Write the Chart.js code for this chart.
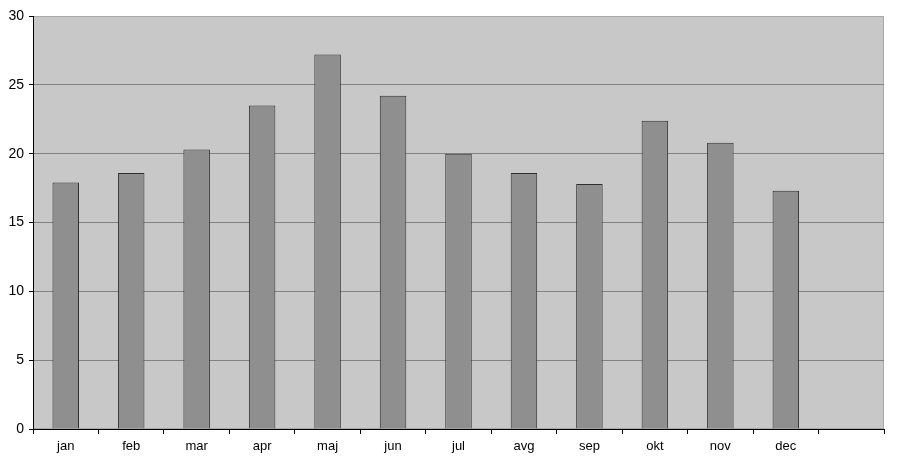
<!DOCTYPE html>
<html>
<head>
<meta charset="utf-8">
<script src="https://cdn.jsdelivr.net/npm/chart.js@4/dist/chart.umd.min.js"></script>
<style>
html,body{margin:0;padding:0;background:#fff}
#c{display:block}
</style>
</head>
<body>
<canvas id="c" width="901" height="465"></canvas>
<script>
// mesecni podatki (13. kategorija je prazna)
const meseci = ["jan","feb","mar","apr","maj","jun","jul","avg","sep","okt","nov","dec",""]
const vrednosti = [17.9,18.6,20.3,23.5,27.2,24.2,20.0,18.6,17.8,22.4,20.8,17.3,null]
const yMin = 0
const yMax = 30
const yKorak = 5

const ozadje = {
id:"ozadje",
beforeDraw(chart){
const a = chart.chartArea
const ctx = chart.ctx
ctx.save()
ctx.fillStyle = "#c8c8c8"
ctx.fillRect(a.left,a.top,a.right-a.left,a.bottom-a.top)
ctx.strokeStyle = "#a9a9a9"
ctx.lineWidth = 1
ctx.strokeRect(a.left+0.5,a.top+0.5,a.right-a.left-1,a.bottom-a.top-1)
ctx.restore()
}
}

new Chart(document.getElementById("c"),{
type:"bar",
data:{
labels:meseci,
datasets:[{
data:vrednosti,
backgroundColor:"#8f8f8f",
borderColor:"#2e2e2e",
borderWidth:1,
borderSkipped:"bottom",
barPercentage:0.405,
categoryPercentage:1
}]
},
options:{
responsive:false,
animation:false,
devicePixelRatio:1,
layout:{padding:{left:0,right:17,top:16,bottom:0}},
plugins:{legend:{display:false},tooltip:{enabled:false}},
scales:{
x:{
grid:{
offset:true,
drawOnChartArea:false,
drawTicks:true,
tickLength:5,
tickColor:"#000"
},
border:{display:true,color:"#000",width:1},
ticks:{
color:"#000",
padding:5,
maxRotation:0,
autoSkip:false,
font:{family:"'Liberation Sans', Arial, sans-serif",size:13}
},
afterFit(s){ s.height = 465-429 }
},
y:{
min:yMin,
max:yMax,
grid:{
color:c=> (c.tick && c.tick.value===yMax) ? "rgba(0,0,0,0)" : "#828282",
tickColor:"#000",
tickLength:4,
drawTicks:true
},
border:{display:true,color:"#000",width:1},
ticks:{
stepSize:yKorak,
color:"#000",
padding:5,
font:{family:"'Liberation Sans', Arial, sans-serif",size:14}
},
afterFit(s){ s.width = 33 }
}
}
},
plugins:[ozadje]
})
</script>
</body>
</html>
